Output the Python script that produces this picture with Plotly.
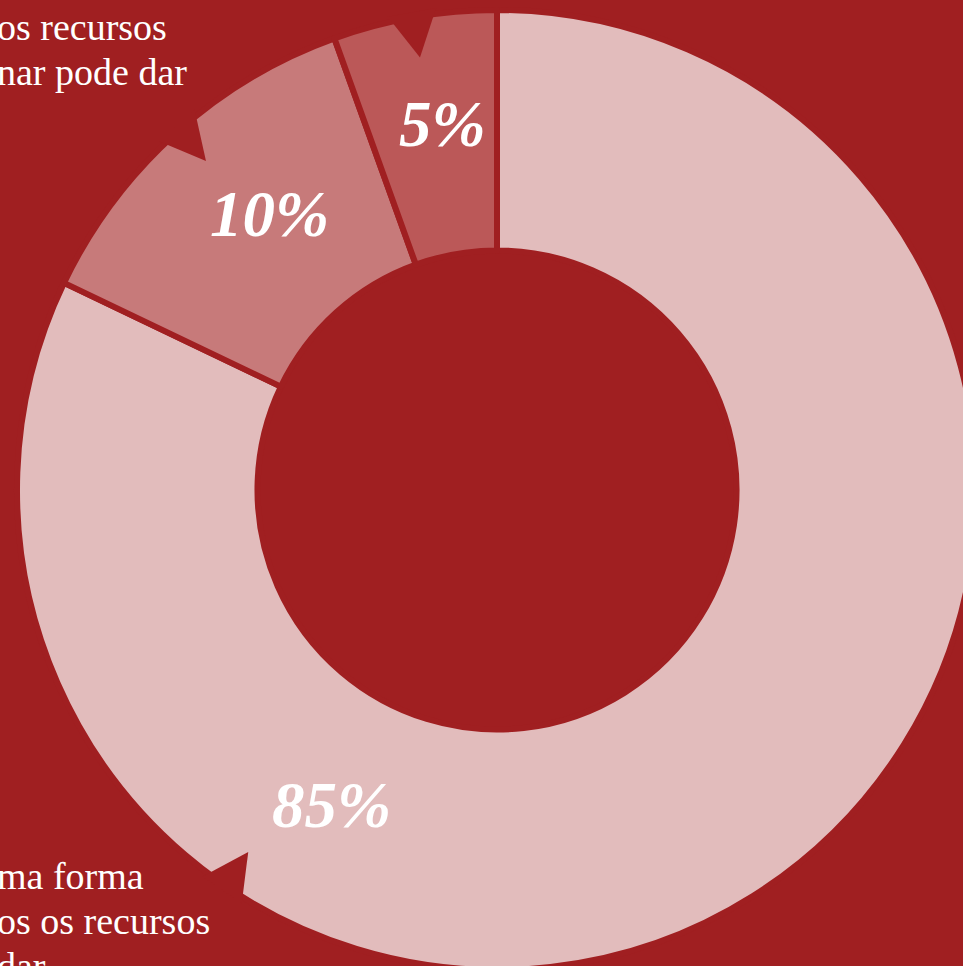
import numpy as np
import plotly.graph_objects as go

# canvas is slightly larger than the window: the ring runs past the right edge
W, H = 980, 975
BG = "#A01F21"

# slices clockwise from 12 o'clock (arc sizes as drawn in the graphic)
groups = ["Grupo A", "Grupo B", "Grupo C"]
shares = [82.1, 12.4, 5.5]
pct_labels = ["85%", "10%", "5%"]

# text fragments visible at the left edge
top_lines = ["os recursos", "nar pode dar"]
bottom_lines = ["ma forma", "os os recursos", "dar"]

slice_colors = ["#E2BCBC", "#C77A7A", "#BB5858"]

# pie box in pixels (left, right, top, bottom)
left, right, top, bottom = 17, 977, 10, 970
cx = (left + right) / 2
cy = (top + bottom) / 2
R = min(right - left, bottom - top) / 2


def px(x, y):
    # pixel position -> paper coordinates
    return x / W, 1 - y / H


def polar(theta, rho):
    t = np.radians(theta)
    return cx + rho * np.sin(t), cy - rho * np.cos(t)


fig = go.Figure()

fig.add_trace(go.Pie(
    labels=groups,
    values=shares,
    hole=0.499,
    sort=False,
    direction="clockwise",
    rotation=0,
    marker=dict(colors=slice_colors, line=dict(color=BG, width=6)),
    textinfo="none",
    hoverinfo="skip",
    showlegend=False,
    domain=dict(x=[left / W, right / W], y=[1 - bottom / H, 1 - top / H]),
))

# small notches cut into the outer edge (decoration)
notches = [(315.9, 318.5, 321.5), (347.0, 349.9, 352.8), (217.3, 214.5, 211.7)]
shapes = []
for a1, am, a2 in notches:
    pts = [polar(a1, R * 1.012), polar(am, R * 0.915), polar(a2, R * 1.012)]
    pts = [px(x, y) for x, y in pts]
    path = "M {} {} L {} {} L {} {} Z".format(*[v for p in pts for v in p])
    shapes.append(dict(type="path", path=path, xref="paper", yref="paper",
                       fillcolor=BG, line=dict(width=0), layer="above"))

annotations = []

# percentage labels (x centre, vertical centre in pixels)
label_pos = [(331, 805), (269, 214), (442, 124)]
for txt, (lx, ly) in zip(pct_labels, label_pos):
    x, y = px(lx, ly)
    annotations.append(dict(
        x=x, y=y, xref="paper", yref="paper", text=txt, showarrow=False,
        xanchor="center", yanchor="middle",
        font=dict(family="Liberation Serif", size=65, color="white",
                  weight="bold", style="italic"),
    ))

# body text running off the left edge
for lines, first_base in [(top_lines, 40), (bottom_lines, 889)]:
    for i, line in enumerate(lines):
        x, y = px(-5, first_base + 45 * i - 12.8)
        annotations.append(dict(
            x=x, y=y, xref="paper", yref="paper", text=line, showarrow=False,
            xanchor="left", yanchor="middle",
            font=dict(family="Liberation Serif", size=38, color="white"),
        ))

fig.update_layout(
    width=W, height=H,
    margin=dict(l=0, r=0, t=0, b=0),
    paper_bgcolor=BG,
    plot_bgcolor=BG,
    shapes=shapes,
    annotations=annotations,
)

# drop the page margin so the chart sits flush with the window
fig.write_html(
    "out.html",
    config={"displayModeBar": False},
    post_script="document.body.style.margin='0';document.body.style.overflow='hidden';",
)
